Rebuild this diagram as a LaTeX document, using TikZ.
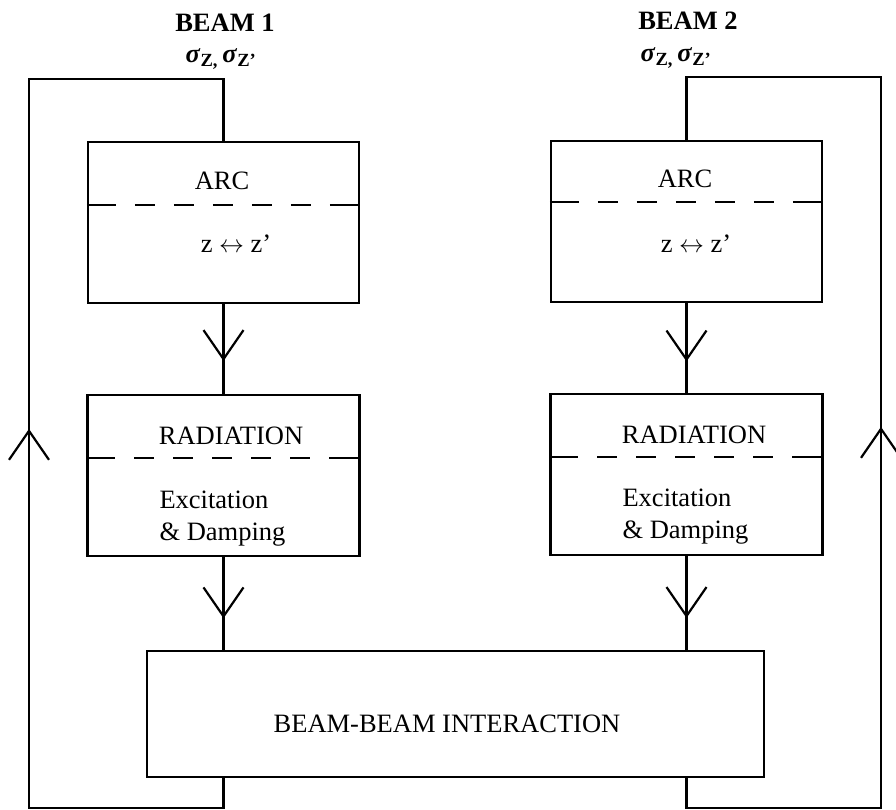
\documentclass[tikz,border=0pt]{standalone}
\usepackage{fontspec}
\setmainfont{Liberation Serif}
\usetikzlibrary{arrows.meta,decorations.markings}

\tikzset{
  block/.style={draw,line width=2.2pt,rectangle,inner sep=0pt,
    minimum width=271pt,minimum height=161pt},
  flow/.style={line width=2.2pt},
  divider/.style={line width=2.2pt,
    dash pattern=on 29pt off 19pt on 20pt off 19pt on 20pt off 19pt on 20pt off 19pt
      on 20pt off 19pt on 20pt off 19pt on 40pt off 0pt},
  barb/.style={postaction={decorate},decoration={markings,
    mark=at position #1 with {\arrow{Straight Barb[length=29pt,width=40pt]}}}},
}

\begin{document}
\begin{tikzpicture}[x=1pt,y=-1pt,every node/.style={font=\fontsize{26.5}{32}\selectfont}]
	\useasboundingbox (0,0) rectangle (896,810);

%	blocks
	\node[block] (arc1) at (223.5,222.5) {};
	\node[block,minimum width=272pt] (rad1) at (223.5,475.5) {};
	\node[block] (arc2) at (686.5,221.5) {};
	\node[block,minimum width=272pt] (rad2) at (686.5,474.5) {};
	\node[block,minimum width=617pt,minimum height=126pt] (bb) at (455.5,714) {};

%	loop corners
	\coordinate (ltop) at (29,79);
	\coordinate (lbot) at (29,808);
	\coordinate (rtop) at (881,77);
	\coordinate (rbot) at (881,808);

%	dividers
	\draw[divider] ([yshift=-64pt]arc1.north west) -- ([yshift=-64pt]arc1.north east);
	\draw[divider] ([yshift=-64pt]rad1.north west) -- ([yshift=-64pt]rad1.north east);
	\draw[divider] ([yshift=-62pt]arc2.north west) -- ([yshift=-62pt]arc2.north east);
	\draw[divider] ([yshift=-64pt]rad2.north west) -- ([yshift=-64pt]rad2.north east);

%	texts
	\node[anchor=base,font=\fontsize{26.5}{32}\selectfont\bfseries] (beam1) at (225,32) {BEAM 1};
	\node[anchor=base,font=\fontsize{26.5}{32}\selectfont\bfseries] (sig1) at (221,63)
		{\textit{σ}\textsubscript{Z,}\,\textit{σ}\textsubscript{Z’}};
	\node[anchor=base,font=\fontsize{26.5}{32}\selectfont\bfseries] (beam2) at (688,30) {BEAM 2};
	\node[anchor=base,font=\fontsize{26.5}{32}\selectfont\bfseries] (sig2) at (676,62)
		{\textit{σ}\textsubscript{Z,}\,\textit{σ}\textsubscript{Z’}};

	\node[anchor=base] (arc1t) at (222,190) {ARC};
	\node[anchor=base] (arc1z) at (236,253) {z $\leftrightarrow$ z’};
	\node[anchor=base] (arc2t) at (685,188) {ARC};
	\node[anchor=base] (arc2z) at (696,252) {z $\leftrightarrow$ z’};

	\node[anchor=base] (rad1t) at (231,444) {RADIATION};
	\node[anchor=base west,align=left] (rad1x) at (156,540) {Excitation\\\& Damping};
	\node[anchor=base] (rad2t) at (694,443) {RADIATION};
	\node[anchor=base west,align=left] (rad2x) at (619,538) {Excitation\\\& Damping};

	\node[anchor=base] (bbt) at (447,732) {BEAM-BEAM INTERACTION};

%	connectors
	\draw[flow,barb=0.634] (arc1.south) -- (rad1.north);
	\draw[flow,barb=0.66] (rad1.south) -- (rad1.south |- bb.north);
	\draw[flow,barb=0.65] (arc2.south) -- (rad2.north);
	\draw[flow,barb=0.66] (rad2.south) -- (rad2.south |- bb.north);

	\draw[flow,barb=603.5pt] (arc1.south |- bb.south) |- (lbot) -- (ltop) -| (arc1.north);
	\draw[flow,barb=605.5pt] (arc2.south |- bb.south) |- (rbot) -- (rtop) -| (arc2.north);
\end{tikzpicture}
\end{document}
